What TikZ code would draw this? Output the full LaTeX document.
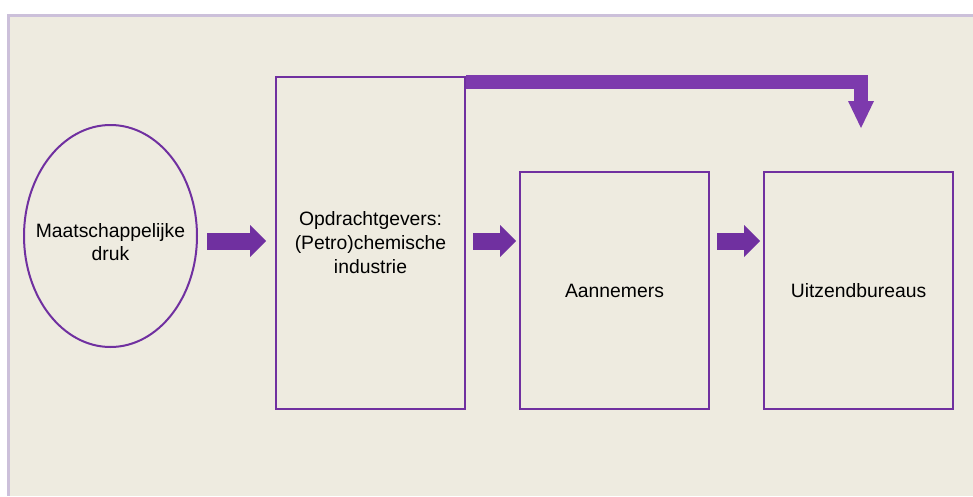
\documentclass[tikz,border=0pt]{standalone}
\usepackage{fontspec}
\setmainfont{Liberation Sans}
\usetikzlibrary{shapes.geometric,arrows.meta}
\definecolor{paper}{HTML}{EEEBE0}
\definecolor{rim}{HTML}{CCC0DA}
\definecolor{lila}{HTML}{7030A0}
\definecolor{lilalicht}{HTML}{7D3AAD}
\begin{document}
\begin{tikzpicture}[x=0.75pt, y=-0.75pt,
    every node/.style={font=\fontsize{14.5pt}{18pt}\selectfont, align=center},
    blok/.style={draw=lila, line width=1.5pt, minimum width=141.75pt, inner sep=0pt},
    pijl/.style={lila, line width=12.75pt, -{Triangle[length=12pt,width=24pt,line width=0pt]}},
    bocht/.style={lilalicht, line width=10.9pt, line join=miter, -{Triangle[length=20.25pt,width=19.5pt,line width=0pt]}}]
    \useasboundingbox (0,0) rectangle (973,496);
    \fill[white] (0,0) rectangle (973,496);
    \fill[rim] (7,14) rectangle (973,496);
    \fill[paper] (10,17) rectangle (973,496);
    \node[ellipse, draw=lila, line width=1.5pt, minimum width=129.75pt, minimum height=166.5pt, inner sep=0pt,
        label={[yshift=-4.5pt, font=\fontsize{14.5pt}{17.5pt}\selectfont]center:Maatschappelijke\\druk}] (druk) at (110.5,236) {};
    \node[blok, minimum height=249pt] (opdracht) at (370.5,243) {Opdrachtgevers:\\(Petro)chemische\\industrie};
    \node[blok, minimum height=177.75pt] (aannemers) at (614.5,290.5) {Aannemers};
    \node[blok, minimum height=177.75pt] (uitzend) at (858.5,290.5) {Uitzendbureaus};
    \coordinate (rij) at (0,241);
    \coordinate (neer) at (861,128);
    \draw[pijl, shorten <=6.75pt, shorten >=6.75pt] (druk.east |- rij) -- (opdracht.west |- rij);
    \draw[pijl, shorten <=5.25pt, shorten >=2.25pt] (opdracht.east |- rij) -- (aannemers.west |- rij);
    \draw[pijl, shorten <=5.25pt, shorten >=2.25pt] (aannemers.east |- rij) -- (uitzend.west |- rij);
    \draw[bocht] ([yshift=-4.5pt]opdracht.north east) -| (neer);
\end{tikzpicture}
\end{document}
